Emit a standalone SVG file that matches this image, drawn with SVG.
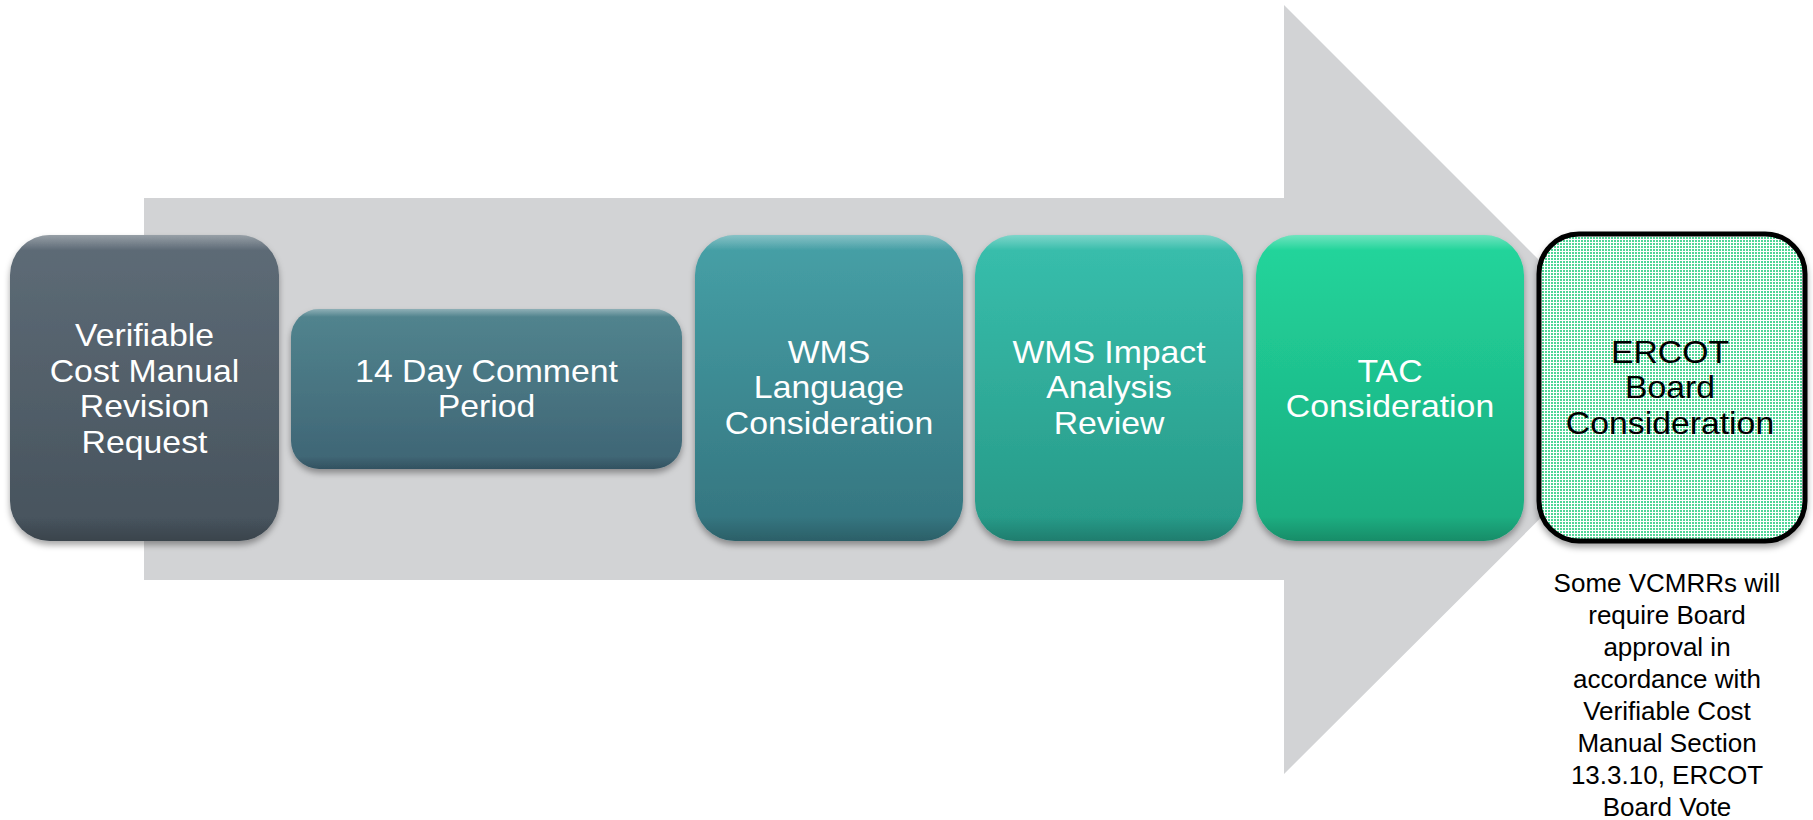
<svg xmlns="http://www.w3.org/2000/svg" width="1813" height="820" viewBox="0 0 1813 820">
<defs>
<style>
.t{font-family:"Liberation Sans",Arial,sans-serif;font-size:31px;text-anchor:middle;fill:#ffffff}
.tb{font-family:"Liberation Sans",Arial,sans-serif;font-size:31px;text-anchor:middle;fill:#000000}
.cap{font-family:"Liberation Sans",Arial,sans-serif;font-size:26px;text-anchor:middle;fill:#000000}
.gloss{fill:url(#gloss)}
</style>
<filter id="sh" x="-10%" y="-10%" width="120%" height="125%">
<feDropShadow dx="0" dy="4" stdDeviation="3" flood-color="#000" flood-opacity="0.35"/>
</filter>
<linearGradient id="g1" x1="0" y1="0" x2="0" y2="1"><stop offset="0" stop-color="#5e6c77"/><stop offset="1" stop-color="#46525c"/></linearGradient>
<linearGradient id="g2" x1="0" y1="0" x2="0" y2="1"><stop offset="0" stop-color="#52858f"/><stop offset="1" stop-color="#3e6474"/></linearGradient>
<linearGradient id="g3" x1="0" y1="0" x2="0" y2="1"><stop offset="0" stop-color="#46a1a7"/><stop offset="1" stop-color="#34737e"/></linearGradient>
<linearGradient id="g4" x1="0" y1="0" x2="0" y2="1"><stop offset="0" stop-color="#38bfad"/><stop offset="1" stop-color="#279886"/></linearGradient>
<linearGradient id="g5" x1="0" y1="0" x2="0" y2="1"><stop offset="0" stop-color="#23d69c"/><stop offset="1" stop-color="#1aab7f"/></linearGradient>
<linearGradient id="gloss" x1="0" y1="0" x2="0" y2="1">
<stop offset="0" stop-color="#ffffff" stop-opacity="0.35"/>
<stop offset="0.05" stop-color="#ffffff" stop-opacity="0"/>
<stop offset="0.92" stop-color="#000000" stop-opacity="0"/>
<stop offset="1" stop-color="#000000" stop-opacity="0.18"/>
</linearGradient>
<pattern id="dots" width="3" height="3" patternUnits="userSpaceOnUse">
<rect width="3" height="3" fill="#ffffff"/>
<rect width="2" height="2" fill="#4fd596"/>
</pattern>
</defs>

<polygon id="arrow" points="144,198 1284,198 1284,5 1669,390 1284,774 1284,580 144,580" fill="#d2d3d5"/>

<g id="n1">
<rect x="10" y="235" width="269" height="306" rx="40" fill="url(#g1)" filter="url(#sh)"/>
<rect class="gloss" x="10" y="235" width="269" height="306" rx="40"/>
<g transform="translate(144.5,0) scale(1.09,1)">
<text class="t" x="0" y="346">Verifiable</text>
<text class="t" x="0" y="382">Cost Manual</text>
<text class="t" x="0" y="417">Revision</text>
<text class="t" x="0" y="453">Request</text>
</g>
</g>

<g id="n2">
<rect x="291" y="309" width="391" height="160" rx="28" fill="url(#g2)" filter="url(#sh)"/>
<rect class="gloss" x="291" y="309" width="391" height="160" rx="28"/>
<g transform="translate(486.5,0) scale(1.09,1)">
<text class="t" x="0" y="382">14 Day Comment</text>
<text class="t" x="0" y="417">Period</text>
</g>
</g>

<g id="n3">
<rect x="695" y="235" width="268" height="306" rx="40" fill="url(#g3)" filter="url(#sh)"/>
<rect class="gloss" x="695" y="235" width="268" height="306" rx="40"/>
<g transform="translate(829,0) scale(1.09,1)">
<text class="t" x="0" y="363">WMS</text>
<text class="t" x="0" y="398">Language</text>
<text class="t" x="0" y="434">Consideration</text>
</g>
</g>

<g id="n4">
<rect x="975" y="235" width="268" height="306" rx="40" fill="url(#g4)" filter="url(#sh)"/>
<rect class="gloss" x="975" y="235" width="268" height="306" rx="40"/>
<g transform="translate(1109,0) scale(1.09,1)">
<text class="t" x="0" y="363">WMS Impact</text>
<text class="t" x="0" y="398">Analysis</text>
<text class="t" x="0" y="434">Review</text>
</g>
</g>

<g id="n5">
<rect x="1256" y="235" width="268" height="306" rx="40" fill="url(#g5)" filter="url(#sh)"/>
<rect class="gloss" x="1256" y="235" width="268" height="306" rx="40"/>
<g transform="translate(1390,0) scale(1.09,1)">
<text class="t" x="0" y="382">TAC</text>
<text class="t" x="0" y="417">Consideration</text>
</g>
</g>

<g id="n6">
<rect x="1539" y="234" width="266" height="307" rx="40" fill="url(#dots)" stroke="#000000" stroke-width="5" filter="url(#sh)"/>
<g transform="translate(1670,0) scale(1.09,1)">
<text class="tb" x="0" y="363">ERCOT</text>
<text class="tb" x="0" y="398">Board</text>
<text class="tb" x="0" y="434">Consideration</text>
</g>
</g>

<g id="caption">
<text class="cap" x="1667" y="592">Some VCMRRs will</text>
<text class="cap" x="1667" y="624">require Board</text>
<text class="cap" x="1667" y="656">approval in</text>
<text class="cap" x="1667" y="688">accordance with</text>
<text class="cap" x="1667" y="720">Verifiable Cost</text>
<text class="cap" x="1667" y="752">Manual Section</text>
<text class="cap" x="1667" y="784">13.3.10, ERCOT</text>
<text class="cap" x="1667" y="816">Board Vote</text>
</g>

<g id="connectors"></g>
</svg>
